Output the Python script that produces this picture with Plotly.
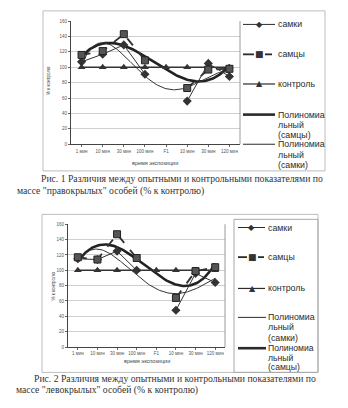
import numpy as np
import plotly.graph_objects as go

# ---- data -------------------------------------------------------------
categories = ["1 мин", "10 мин", "30 мин", "100 мин", "F1", "10 мин", "30 мин", "120 мин"]
y_ticks = [0, 20, 40, 60, 80, 100, 120, 140, 160]

# Fig. 1  "right-winged" individuals, % of control
f1_samki = [107, 117, 129, 91, None, 56, 105, 88]
f1_samcy = [116, 121, 143, 109, None, 73, 97, 98]
f1_kontrol = [100, 100, 100, 100, 100, 100, 100, 100]

# Fig. 2  "left-winged" individuals, % of control
f2_samki = [115, 114, 125, 100, None, 48, 96, 84]
f2_samcy = [117, 114, 147, 116, None, 64, 99, 104]
f2_kontrol = [100, 100, 100, 100, 100, 100, 100, 100]

# polynomial order of the trendlines
DEG_SAMCY = 3
DEG_SAMKI = 4

W, H = 348, 408
FONT = "Liberation Sans"
INK = "#2b2b2b"


def px(x):
    return x / W


def py(y):
    return 1 - y / H


def trend(values, degree):
    """Polynomial trendline over the category index, skipping blanks."""
    xs = np.array([i + 1 for i, v in enumerate(values) if v is not None], float)
    ys = np.array([v for v in values if v is not None], float)
    coef = np.polyfit(xs, ys, degree)
    xx = np.linspace(1, len(values), 120)
    return xx, np.polyval(coef, xx)


fig = go.Figure()
xpos = list(range(1, len(categories) + 1))


def add_chart(n, samki, samcy, kontrol):
    xa, ya = ("x", "y") if n == 1 else ("x2", "y2")
    # trendlines
    tx, ty = trend(samcy, DEG_SAMCY)
    fig.add_trace(go.Scatter(x=tx, y=ty, xaxis=xa, yaxis=ya, mode="lines",
                             line=dict(color="#222", width=2.6), hoverinfo="skip"))
    tx, ty = trend(samki, DEG_SAMKI)
    fig.add_trace(go.Scatter(x=tx, y=ty, xaxis=xa, yaxis=ya, mode="lines",
                             line=dict(color="#333", width=1), hoverinfo="skip"))
    # series
    fig.add_trace(go.Scatter(x=xpos, y=kontrol, xaxis=xa, yaxis=ya, mode="lines+markers",
                             line=dict(color="#333", width=1.4),
                             marker=dict(symbol="triangle-up", size=7, color="#333")))
    fig.add_trace(go.Scatter(x=xpos, y=samki, xaxis=xa, yaxis=ya, mode="lines+markers",
                             line=dict(color="#333", width=1),
                             marker=dict(symbol="diamond", size=7, color="#333")))
    fig.add_trace(go.Scatter(x=xpos, y=samcy, xaxis=xa, yaxis=ya, mode="lines+markers",
                             line=dict(color="#333", width=1.8, dash="dash"),
                             marker=dict(symbol="square", size=7, color="#555",
                                         line=dict(color="#222", width=1))))


add_chart(1, f1_samki, f1_samcy, f1_kontrol)
add_chart(2, f2_samki, f2_samcy, f2_kontrol)

# plot areas (pixel boxes)
p1 = dict(x0=71, x1=240, y0=19.3, y1=144)
p2 = dict(x0=68, x1=225, y0=225, y1=349.3)

xaxis_common = dict(range=[0.5, 8.5], tickvals=xpos, ticktext=categories,
                    showline=True, linecolor="#444", linewidth=1, ticks="outside",
                    ticklen=2, tickcolor="#666", showgrid=False, zeroline=False,
                    tickfont=dict(family=FONT, size=4.5, color="#555"), fixedrange=True)
yaxis_common = dict(range=[0, 160], tickvals=y_ticks, showline=True, linecolor="#444",
                    linewidth=1, ticks="outside", ticklen=2, tickcolor="#666",
                    gridcolor="#cfcfcf", gridwidth=1, zeroline=False,
                    tickfont=dict(family=FONT, size=4.5, color="#555"), fixedrange=True)

fig.update_layout(
    width=W, height=H, margin=dict(l=0, r=0, t=0, b=0),
    paper_bgcolor="white", plot_bgcolor="white", showlegend=False,
    xaxis=dict(xaxis_common, domain=[px(p1["x0"]), px(p1["x1"])], anchor="y"),
    yaxis=dict(yaxis_common, domain=[py(p1["y1"]), py(p1["y0"])], anchor="x"),
    xaxis2=dict(xaxis_common, domain=[px(p2["x0"]), px(p2["x1"])], anchor="y2"),
    yaxis2=dict(yaxis_common, domain=[py(p2["y1"]), py(p2["y0"])], anchor="x2"),
)

shapes = []
annotations = []


def rect(x0, y0, x1, y1, color="#bdbdbd", width=1):
    shapes.append(dict(type="rect", xref="paper", yref="paper", x0=px(x0), x1=px(x1),
                       y0=py(y0), y1=py(y1), line=dict(color=color, width=width),
                       layer="below"))


def hline(x0, x1, y, width=1.2, color="#2b2b2b"):
    shapes.append(dict(type="line", xref="paper", yref="paper", x0=px(x0), x1=px(x1),
                       y0=py(y), y1=py(y), line=dict(color=color, width=width)))


def text(x, y, s, size=8.8, family=FONT, color=INK, xanchor="left", angle=0):
    annotations.append(dict(x=px(x), y=py(y), xref="paper", yref="paper", text=s,
                            showarrow=False, xanchor=xanchor, yanchor="middle",
                            textangle=angle, borderpad=0,
                            font=dict(family=family, size=size, color=color)))


# chart frames and plot-area edges
rect(43, 9, 325, 171)
rect(42, 215, 318, 375)
shapes.append(dict(type="line", xref="paper", yref="paper", x0=px(p1["x1"]), x1=px(p1["x1"]),
                   y0=py(p1["y1"]), y1=py(p1["y0"]), line=dict(color="#9a9a9a", width=1)))
shapes.append(dict(type="line", xref="paper", yref="paper", x0=px(p2["x1"]), x1=px(p2["x1"]),
                   y0=py(p2["y1"]), y1=py(p2["y0"]), line=dict(color="#9a9a9a", width=1)))
rect(234, 220, 318, 375, color="#a8a8a8")

# axis titles
text(155, 163, "время экспозиции", size=5.5, xanchor="center", color="#444")
text(147, 363, "время экспозиции", size=5.5, xanchor="center", color="#444")
text(48, 80, "% к контролю", size=4.5, xanchor="center", color="#444", angle=-90)
text(53, 288, "% к контролю", size=4.5, xanchor="center", color="#444", angle=-90)


def legend_marker(x, y, glyph, size):
    text(x, y, glyph, size=size, family="DejaVu Sans", color="#333", xanchor="center")


# legend, fig. 1
hline(243, 275, 22.7, width=1)
legend_marker(259, 22.7, "◆", 8)
text(277, 22.7, "самки")
hline(243, 254, 53, width=1.8)
hline(265, 272, 53, width=1.8)
legend_marker(259, 53, "■", 9)
text(277, 53, "самцы")
hline(243, 275, 83, width=1.2)
legend_marker(259, 83, "▲", 8)
text(277, 83, "контроль")
hline(243, 275, 114, width=2.6)
for i, s in enumerate(["Полиномиа", "льный", "(самцы)"]):
    text(277, 114 + 10.2 * i, s)
hline(243, 275, 144, width=1)
for i, s in enumerate(["Полиномиа", "льный", "(самки)"]):
    text(277, 144 + 10.4 * i, s)

# legend, fig. 2
hline(238, 265, 228.3, width=1)
legend_marker(251, 228.3, "◆", 8)
text(267, 228.3, "самки")
hline(238, 247, 258.3, width=1.8)
hline(258, 264, 258.3, width=1.8)
legend_marker(252, 258.3, "■", 9)
text(267, 258.3, "самцы")
hline(238, 265, 290, width=1.2)
legend_marker(252, 290, "▲", 8)
text(267, 290, "контроль")
hline(238, 266, 319.3, width=1)
for i, s in enumerate(["Полиномиа", "льный", "(самки)"]):
    text(267, 319.3 + 10.2 * i, s)
hline(238, 266, 350.5, width=2.6)
for i, s in enumerate(["Полиномиа", "льный", "(самцы)"]):
    text(267, 350.5 + 9.6 * i, s, size=8.6)

# captions
SERIF = "Liberation Serif"
CAP = 9.7
text(40, 178.5, "Рис. 1 Различия между опытными и контрольными показателями по",
     size=CAP, family=SERIF, color="#333")
text(16, 191, "массе \"правокрылых\" особей (% к контролю)", size=CAP, family=SERIF, color="#333")
text(33, 381.5, "Рис. 2 Различия между опытными и контрольными показателями по",
     size=CAP, family=SERIF, color="#333")
text(15, 393, "массе \"левокрылых\" особей (% к контролю)", size=CAP, family=SERIF, color="#333")

fig.update_layout(shapes=shapes, annotations=annotations)
fig.write_html("out.html")
